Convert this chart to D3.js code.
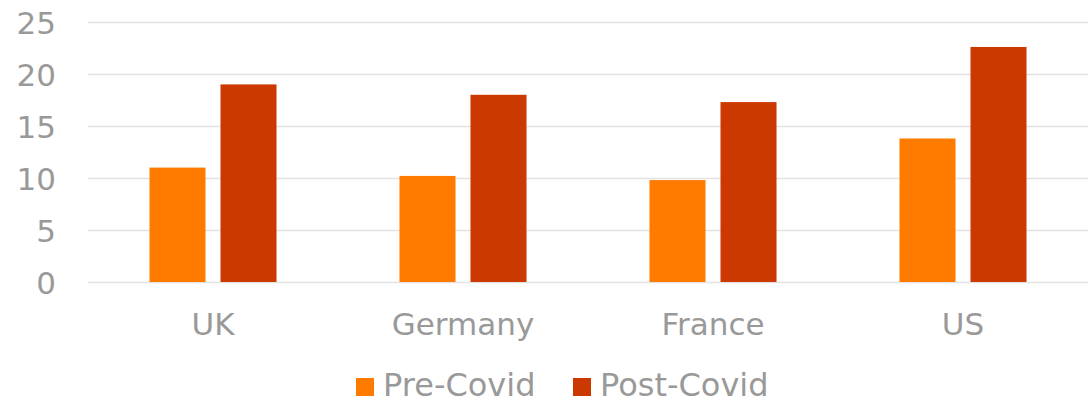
<!DOCTYPE html>
<html>
<head>
<meta charset="utf-8">
<script src="https://cdn.jsdelivr.net/npm/d3@7"></script>
<style>
  body { margin: 0; background: #fff; }
  svg text { font-family: "DejaVu Sans", Verdana, sans-serif; fill: #999999; }
</style>
</head>
<body>
<div id="chart"></div>
<script>
// data
var countries = ["UK", "Germany", "France", "US"]
var seriesNames = ["Pre-Covid", "Post-Covid"]
var preCovid = [11.0, 10.2, 9.8, 13.8]
var postCovid = [19.0, 18.0, 17.3, 22.6]
var yTicks = [0, 5, 10, 15, 20, 25]
var colors = ["#FF7B00", "#CC3900"]

var width = 1088, height = 402
var margin = { top: 22, right: 0, bottom: 120, left: 88 }

var rows = countries.map(function(c, i) {
  return { country: c, values: [preCovid[i], postCovid[i]] }
})

var svg = d3.select("#chart")
  .append("svg")
  .attr("width", width)
  .attr("height", height)

var x0 = d3.scaleBand()
  .domain(countries)
  .range([margin.left, width - margin.right])

var x1 = d3.scaleBand()
  .domain(seriesNames)
  .range([0, x0.bandwidth()])
  .paddingInner(0.211)
  .paddingOuter(0.866)

var yScale = d3.scaleLinear()
  .domain([0, 25])
  .range([height - margin.bottom, margin.top])

// grid
var yGrid = d3.axisLeft(yScale)
  .tickValues(yTicks)
  .tickSize(-(width - margin.left - margin.right))
  .tickFormat("")

svg.append("g")
  .attr("transform", `translate(${margin.left},0)`)
  .attr("class", "grid")
  .call(yGrid)
  .call(g => g.select(".domain").remove())
  .selectAll("line")
  .attr("stroke", "#e3e3e3")
  .attr("stroke-width", 1.5)

// y labels
var yAxis = d3.axisLeft(yScale)
  .tickValues(yTicks)
  .tickSize(0)
  .tickPadding(32)

svg.append("g")
  .attr("transform", `translate(${margin.left},0)`)
  .call(yAxis)
  .call(g => g.select(".domain").remove())
  .selectAll("text")
  .attr("font-size", "31px")
  .attr("dy", "0.36em")

// bars
var groups = svg.selectAll(".group")
  .data(rows)
  .enter()
  .append("g")
  .attr("class", "group")
  .attr("transform", d => `translate(${x0(d.country)},0)`)

groups.selectAll("rect")
  .data(d => d.values.map((v, i) => ({ key: seriesNames[i], value: v, i: i })))
  .enter()
  .append("rect")
  .attr("x", d => x1(d.key))
  .attr("y", d => yScale(d.value))
  .attr("width", x1.bandwidth())
  .attr("height", d => yScale(0) - yScale(d.value))
  .style("fill", d => colors[d.i])

// x labels
var xAxis = d3.axisBottom(x0)
  .tickSize(0)
  .tickPadding(31)

svg.append("g")
  .attr("transform", `translate(0,${yScale(0)})`)
  .call(xAxis)
  .call(g => g.select(".domain").remove())
  .selectAll("text")
  .attr("font-size", "31px")
  .attr("dy", "0.71em")

// legend
var legendX = [356, 573]
var legend = svg.selectAll(".legend")
  .data(seriesNames)
  .enter()
  .append("g")
  .attr("class", "legend")
  .attr("transform", (d, i) => `translate(${legendX[i]},378)`)

legend.append("rect")
  .attr("width", 18)
  .attr("height", 18)
  .style("fill", (d, i) => colors[i])

legend.append("text")
  .attr("x", 27)
  .attr("y", 18)
  .attr("font-size", "32px")
  .text(d => d)
</script>
</body>
</html>
